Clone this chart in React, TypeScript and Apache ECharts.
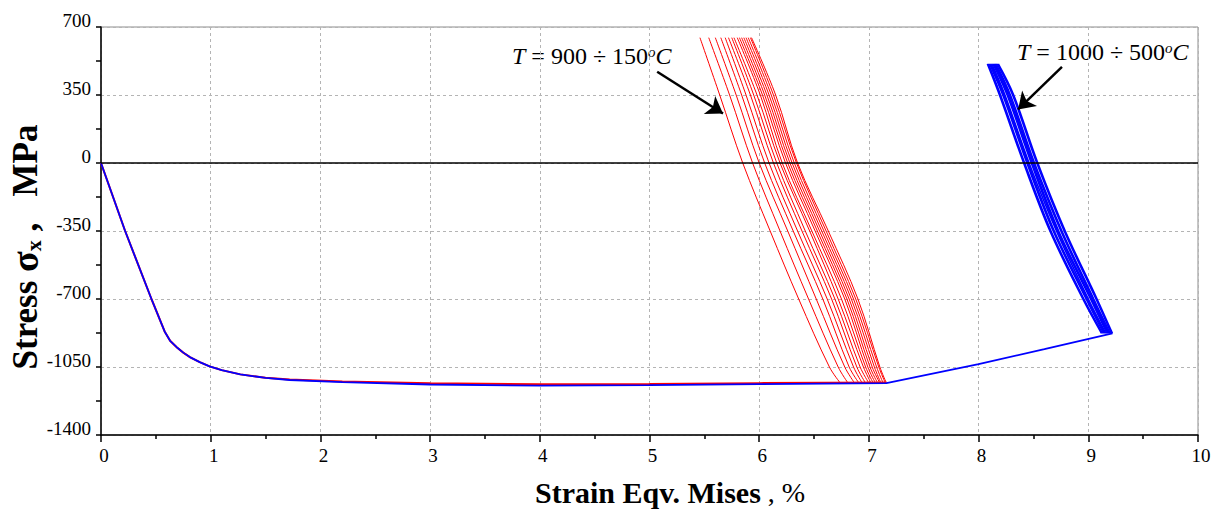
import React, { useEffect, useRef } from "react";
import * as echarts from "echarts";

// ---- data ----
const xTicks = [0, 1, 2, 3, 4, 5, 6, 7, 8, 9, 10];
const yTicks = [-1400, -1050, -700, -350, 0, 350, 700];

// main loading path (strain %, stress MPa)
const redLoadX = [0, 0.22, 0.46, 0.58, 0.63, 0.69, 0.75, 0.81, 0.9, 0.99, 1.1, 1.27, 1.5, 1.72, 2.2, 3.0, 4.0, 5.0, 6.0, 7.16];
const redLoadY = [0, -350, -700, -867, -915, -948, -976, -999, -1025, -1047, -1066, -1088, -1105, -1114, -1124, -1134, -1139, -1137, -1133, -1130];

const blueLoadX = [0, 0.22, 0.46, 0.58, 0.63, 0.69, 0.75, 0.81, 0.9, 0.99, 1.1, 1.27, 1.5, 1.72, 2.2, 3.0, 4.0, 5.0, 6.0, 7.16, 8.0, 8.6, 9.22];
const blueLoadY = [0, -350, -700, -867, -915, -948, -976, -999, -1025, -1047, -1066, -1088, -1106, -1117, -1128, -1140, -1146, -1143, -1138, -1133, -1035, -958, -877];

// red unloading curves, T = 900 ... 150 C: strain at stress levels
const redLevels = [645, 350, 0, -350, -700, -1050, -1133];
const redCurvesX = [
  [5.46, 5.64, 5.85, 6.10, 6.36, 6.64, 6.74],
  [5.54, 5.73, 5.94, 6.19, 6.45, 6.72, 6.81],
  [5.60, 5.79, 6.00, 6.26, 6.52, 6.78, 6.87],
  [5.65, 5.84, 6.05, 6.31, 6.58, 6.82, 6.91],
  [5.69, 5.88, 6.09, 6.35, 6.62, 6.86, 6.94],
  [5.72, 5.92, 6.13, 6.39, 6.66, 6.89, 6.97],
  [5.75, 5.95, 6.16, 6.42, 6.69, 6.92, 7.00],
  [5.77, 5.98, 6.19, 6.46, 6.72, 6.95, 7.02],
  [5.80, 6.01, 6.21, 6.48, 6.75, 6.97, 7.04],
  [5.82, 6.03, 6.24, 6.51, 6.78, 6.99, 7.06],
  [5.84, 6.05, 6.26, 6.53, 6.80, 7.01, 7.08],
  [5.86, 6.07, 6.28, 6.55, 6.82, 7.03, 7.10],
  [5.88, 6.09, 6.30, 6.57, 6.84, 7.05, 7.11],
  [5.90, 6.11, 6.32, 6.59, 6.86, 7.07, 7.13],
  [5.92, 6.13, 6.34, 6.61, 6.88, 7.09, 7.15],
  [5.93, 6.15, 6.35, 6.63, 6.90, 7.10, 7.16],
];

// blue unloading curves, T = 1000 ... 500 C
const blueLevels = [510, 350, 0, -350, -700, -877];
const blueCurvesX = [
  [8.08, 8.19, 8.41, 8.65, 8.95, 9.12],
  [8.09, 8.20, 8.42, 8.66, 8.96, 9.13],
  [8.10, 8.22, 8.44, 8.68, 8.98, 9.14],
  [8.11, 8.23, 8.45, 8.69, 8.99, 9.15],
  [8.12, 8.24, 8.46, 8.71, 9.00, 9.16],
  [8.13, 8.26, 8.48, 8.72, 9.02, 9.17],
  [8.14, 8.27, 8.49, 8.73, 9.03, 9.18],
  [8.15, 8.28, 8.50, 8.75, 9.04, 9.19],
  [8.16, 8.29, 8.51, 8.76, 9.05, 9.20],
  [8.17, 8.31, 8.53, 8.78, 9.07, 9.21],
  [8.18, 8.32, 8.54, 8.79, 9.08, 9.22],
];

// annotation arrows (data coords): start, tip
const redArrow = [[5.07, 470], [5.67, 255]];
const blueArrow = [[8.76, 495], [8.36, 276]];

const SERIF = '"Liberation Serif", "Times New Roman", Times, serif';

export default function App() {
  const ref = useRef<HTMLDivElement>(null);
  useEffect(() => {
    if (!ref.current) return;
    const chart = echarts.init(ref.current, null, { renderer: "svg" });

    const zip = (xs: number[], ys: number[]) => xs.map((x, i) => [x, ys[i]]);

    const series: any[] = [];
    series.push({
      type: "line",
      data: zip(redLoadX, redLoadY),
      showSymbol: false,
      lineStyle: { color: "#ff0000", width: 2 },
      silent: true,
    });
    redCurvesX.forEach((xs) => {
      series.push({
        type: "line",
        data: zip(xs, redLevels),
        showSymbol: false,
        smooth: 0.35,
        lineStyle: { color: "#ff0000", width: 1 },
        silent: true,
      });
    });
    series.push({
      type: "line",
      data: zip(blueLoadX, blueLoadY),
      showSymbol: false,
      lineStyle: { color: "#0000ff", width: 1.8 },
      silent: true,
      markLine: {
        silent: true,
        animation: false,
        label: { show: false },
        symbol: ["none", "none"],
        data: [
          { yAxis: 0, symbol: "none", lineStyle: { color: "#000", type: "solid", width: 1.5 } },
          [
            { coord: redArrow[0], symbol: "none", lineStyle: { color: "#000", type: "solid", width: 2.5 } },
            { coord: redArrow[1], symbol: "arrow", symbolSize: 16 },
          ],
          [
            { coord: blueArrow[0], symbol: "none", lineStyle: { color: "#000", type: "solid", width: 2.5 } },
            { coord: blueArrow[1], symbol: "arrow", symbolSize: 16 },
          ],
        ],
      },
    });
    blueCurvesX.forEach((xs) => {
      series.push({
        type: "line",
        data: zip(xs, blueLevels),
        showSymbol: false,
        smooth: 0.35,
        lineStyle: { color: "#0000ff", width: 1.6 },
        silent: true,
      });
    });

    const tickLabel = { fontFamily: SERIF, fontSize: 19, color: "#000" };

    chart.setOption({
      animation: false,
      grid: { left: 101, right: 26, top: 27, bottom: 79, show: true, borderColor: "#8c8c8c", borderWidth: 1 },
      xAxis: {
        type: "value",
        min: xTicks[0],
        max: xTicks[xTicks.length - 1],
        interval: 1,
        axisLine: { show: true, onZero: false, lineStyle: { color: "#000", width: 1.5 } },
        axisTick: { show: true, inside: false, length: 7, lineStyle: { color: "#000", width: 1.5 } },
        minorTick: { show: true, splitNumber: 2, length: 4, lineStyle: { color: "#000", width: 1.5 } },
        splitLine: { show: true, lineStyle: { color: "#b4b4b4", type: [3, 3], width: 1 } },
        axisLabel: {
          ...tickLabel,
          margin: 11,
          padding: [0, 0, 0, 6],
          showMinLabel: true,
          showMaxLabel: true,
          formatter: (v: number) => String(v),
        },
      },
      yAxis: {
        type: "value",
        min: yTicks[0],
        max: yTicks[yTicks.length - 1],
        interval: 350,
        axisLine: { show: true, onZero: false, lineStyle: { color: "#000", width: 1.5 } },
        axisTick: { show: true, inside: false, length: 5, lineStyle: { color: "#000", width: 1.5 } },
        minorTick: { show: true, splitNumber: 2, length: 5, lineStyle: { color: "#000", width: 1.5 } },
        splitLine: { show: true, lineStyle: { color: "#b4b4b4", type: [3, 3], width: 1 } },
        axisLabel: {
          ...tickLabel,
          margin: 10,
          verticalAlign: "bottom",
          lineHeight: 13,
          showMinLabel: true,
          showMaxLabel: true,
          formatter: (v: number) => String(v),
        },
      },
      graphic: [
        {
          type: "text",
          x: 512,
          y: 56,
          style: {
            text: "{i|T} = 900 ÷ 150{s|o}{i|C}",
            textVerticalAlign: "middle",
            fontFamily: SERIF,
            fontSize: 24,
            fill: "#000",
            rich: {
              i: { fontFamily: SERIF, fontSize: 24, fontStyle: "italic" },
              s: { fontFamily: SERIF, fontSize: 15, fontStyle: "italic", verticalAlign: "top" },
            },
          },
        },
        {
          type: "text",
          x: 1017,
          y: 52,
          style: {
            text: "{i|T} = 1000 ÷ 500{s|o}{i|C}",
            textVerticalAlign: "middle",
            fontFamily: SERIF,
            fontSize: 24,
            fill: "#000",
            rich: {
              i: { fontFamily: SERIF, fontSize: 24, fontStyle: "italic" },
              s: { fontFamily: SERIF, fontSize: 15, fontStyle: "italic", verticalAlign: "top" },
            },
          },
        },
        {
          type: "text",
          x: 535,
          y: 492,
          style: {
            text: "{b|Strain Eqv. Mises}{n| , %}",
            textVerticalAlign: "middle",
            fontFamily: SERIF,
            fontSize: 30,
            fill: "#000",
            rich: {
              b: { fontFamily: SERIF, fontSize: 30, fontWeight: "bold" },
              n: { fontFamily: SERIF, fontSize: 28, fontWeight: "normal" },
            },
          },
        },
        {
          type: "text",
          x: 25,
          y: 247,
          rotation: Math.PI / 2,
          style: {
            text: "{b|Stress }{g|σ}{x|x}{b| ,   MPa}",
            textAlign: "center",
            textVerticalAlign: "middle",
            fontFamily: SERIF,
            fontSize: 35,
            fill: "#000",
            rich: {
              b: { fontFamily: SERIF, fontSize: 35, fontWeight: "bold" },
              g: { fontFamily: SERIF, fontSize: 38, fontWeight: "bold" },
              x: { fontFamily: SERIF, fontSize: 22, fontWeight: "bold", verticalAlign: "bottom" },
            },
          },
        },
      ],
      series,
    });

    return () => chart.dispose();
  }, []);

  return <div ref={ref} style={{ position: "absolute", left: 0, top: 0, width: 1224, height: 514 }} />;
}
